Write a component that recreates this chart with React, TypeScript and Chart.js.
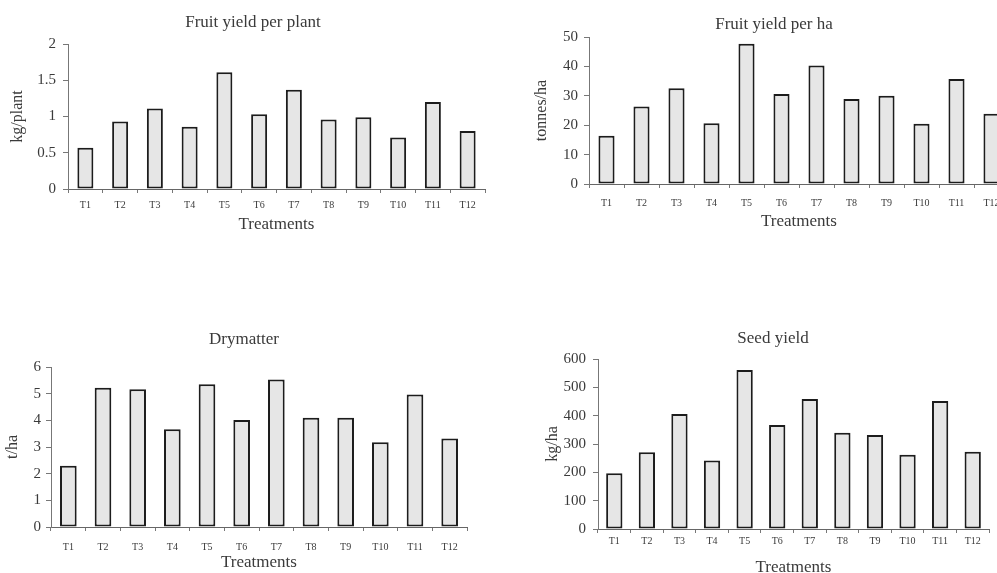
import React, { useEffect, useRef } from "react";
import { Chart, registerables } from "chart.js";
Chart.register(...registerables);

const treatments = ["T1", "T2", "T3", "T4", "T5", "T6", "T7", "T8", "T9", "T10", "T11", "T12"];
const fruitYieldPerPlant = [0.57, 0.93, 1.11, 0.86, 1.61, 1.03, 1.37, 0.96, 0.99, 0.71, 1.2, 0.8];
const fruitYieldPerHa = [16.4, 26.4, 32.6, 20.7, 47.7, 30.6, 40.3, 28.9, 30.0, 20.5, 35.7, 23.9];
const dryMatter = [2.3, 5.22, 5.17, 3.67, 5.35, 4.01, 5.53, 4.1, 4.1, 3.18, 4.97, 3.32];
const seedYield = [197, 271, 406, 242, 561, 367, 459, 340, 332, 262, 452, 273];

const chartTitles = ["Fruit yield per plant", "Fruit yield per ha", "Drymatter", "Seed yield"];
const yAxisTitles = ["kg/plant", "tonnes/ha", "t/ha", "kg/ha"];
const xAxisTitle = "Treatments";
const yMaxima = [2, 50, 6, 600];
const ySteps = [0.5, 10, 1, 100];

const FONT = '"Liberation Serif", "Times New Roman", serif';
const TEXT = "#3a3a3a";

type Panel = {
  values: number[];
  title: string;
  yTitle: string;
  max: number;
  step: number;
  box: { left: number; top: number; w: number; h: number };
  area: { l: number; r: number; t: number; b: number };
  titlePos: { x: number; y: number };
  bar: number;
  xTickPad: number;
  yTickPad: number;
  yTitlePad: number;
  xTitlePad: number;
};

const panels: Panel[] = [
  {
    values: fruitYieldPerPlant, title: chartTitles[0], yTitle: yAxisTitles[0], max: yMaxima[0], step: ySteps[0],
    box: { left: 0, top: 0, w: 497, h: 250 }, area: { l: 68, r: 485, t: 44, b: 189 },
    titlePos: { x: 253, y: 23 }, bar: 0.46, xTickPad: 6, yTickPad: 7, yTitlePad: 8, xTitlePad: 15,
  },
  {
    values: fruitYieldPerHa, title: chartTitles[1], yTitle: yAxisTitles[1], max: yMaxima[1], step: ySteps[1],
    box: { left: 497, top: 0, w: 525, h: 250 }, area: { l: 92, r: 512, t: 37, b: 184 },
    titlePos: { x: 277, y: 25 }, bar: 0.46, xTickPad: 9, yTickPad: 6, yTitlePad: 35, xTitlePad: 18,
  },
  {
    values: dryMatter, title: chartTitles[2], yTitle: yAxisTitles[2], max: yMaxima[2], step: ySteps[2],
    box: { left: 0, top: 300, w: 497, h: 290 }, area: { l: 51, r: 467, t: 67, b: 227 },
    titlePos: { x: 244, y: 40 }, bar: 0.48, xTickPad: 10, yTickPad: 5, yTitlePad: 3, xTitlePad: 17,
  },
  {
    values: seedYield, title: chartTitles[3], yTitle: yAxisTitles[3], max: yMaxima[3], step: ySteps[3],
    box: { left: 497, top: 300, w: 500, h: 290 }, area: { l: 101, r: 492, t: 59, b: 229 },
    titlePos: { x: 276, y: 39 }, bar: 0.5, xTickPad: 2, yTickPad: 7, yTitlePad: 46, xTitlePad: 12,
  },
];

function BarPanel({ p }: { p: Panel }) {
  const ref = useRef<HTMLCanvasElement | null>(null);
  useEffect(() => {
    if (!ref.current) return;
    const titlePlugin = {
      id: "panelTitle",
      afterDraw(chart: any) {
        const ctx = chart.ctx;
        ctx.save();
        ctx.font = `17px ${FONT}`;
        ctx.fillStyle = TEXT;
        ctx.textAlign = "center";
        ctx.textBaseline = "middle";
        ctx.fillText(p.title, p.titlePos.x, p.titlePos.y);
        ctx.restore();
      },
    };
    const chart = new Chart(ref.current, {
      type: "bar",
      data: {
        labels: treatments,
        datasets: [
          {
            data: p.values,
            backgroundColor: "#e6e6e6",
            borderColor: "#1c1c1c",
            borderWidth: 2,
            borderSkipped: false,
            categoryPercentage: 1,
            barPercentage: p.bar,
          },
        ],
      },
      options: {
        animation: false,
        responsive: false,
        devicePixelRatio: 1,
        layout: { padding: { left: 0, top: p.area.t, right: p.box.w - p.area.r, bottom: 0 } },
        plugins: { legend: { display: false }, tooltip: { enabled: false }, title: { display: false } },
        scales: {
          x: {
            afterFit: (s: any) => { s.height = p.box.h - p.area.b; },
            grid: { display: true, drawOnChartArea: false, drawTicks: true, tickLength: 4, color: "#777", offset: true },
            border: { display: true, color: "#666", width: 1 },
            ticks: { color: TEXT, font: { family: FONT, size: 10 }, padding: p.xTickPad, maxRotation: 0, autoSkip: false },
            title: { display: true, text: xAxisTitle, color: TEXT, font: { family: FONT, size: 17 }, padding: { top: 0, bottom: p.xTitlePad } },
          },
          y: {
            min: 0,
            max: p.max,
            afterFit: (s: any) => { s.width = p.area.l; },
            grid: { display: true, drawOnChartArea: false, drawTicks: true, tickLength: 5, color: "#777" },
            border: { display: true, color: "#777", width: 1 },
            ticks: {
              stepSize: p.step,
              color: TEXT,
              font: { family: FONT, size: 15 },
              padding: p.yTickPad,
              callback: (v: any) => String(Number(v)),
            },
            title: { display: true, text: p.yTitle, color: TEXT, font: { family: FONT, size: 16 }, padding: { top: p.yTitlePad, bottom: 0 } },
          },
        },
      },
      plugins: [titlePlugin],
    });
    return () => chart.destroy();
  }, [p]);
  return (
    <canvas
      ref={ref}
      width={p.box.w}
      height={p.box.h}
      style={{ position: "absolute", left: p.box.left, top: p.box.top, width: p.box.w, height: p.box.h }}
    />
  );
}

export default function App() {
  return (
    <div style={{ position: "fixed", left: 0, top: 0, width: 997, height: 573, overflow: "hidden", background: "#fff" }}>
      {panels.map((p, i) => (
        <BarPanel key={i} p={p} />
      ))}
    </div>
  );
}
